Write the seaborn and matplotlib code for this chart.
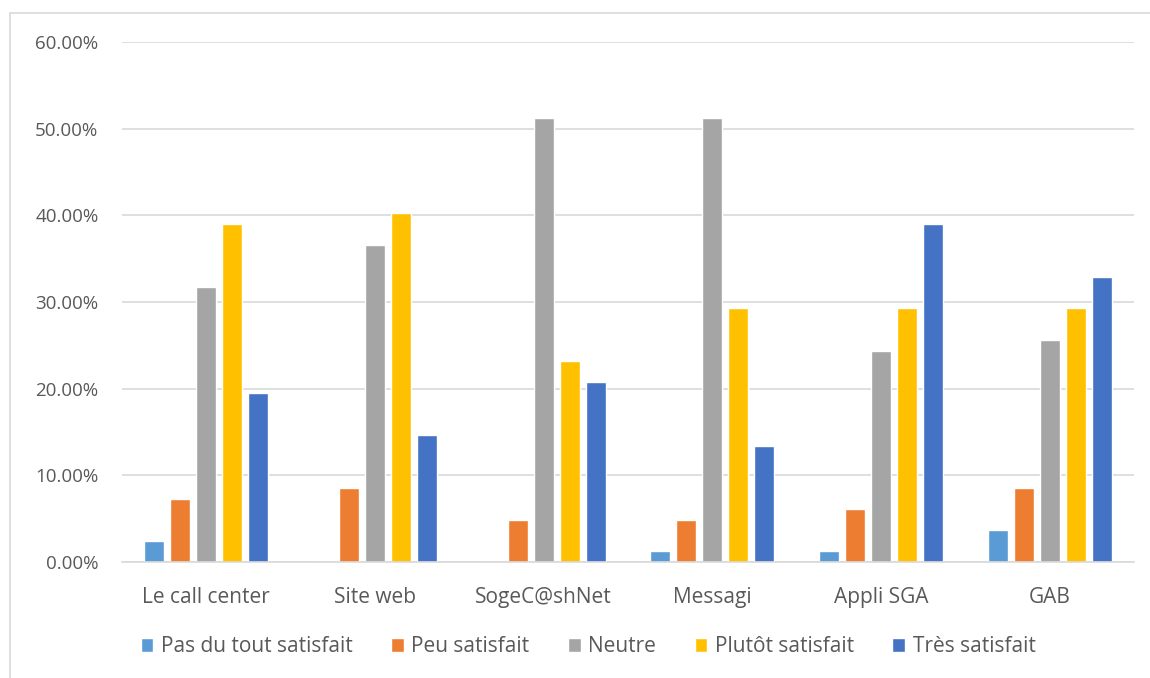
import matplotlib
matplotlib.use("Agg")
import matplotlib.pyplot as plt
import matplotlib.patches as mpatches
from matplotlib.ticker import FuncFormatter
import seaborn as sns
import pandas as pd

canaux = ["Le call center", "Site web", "SogeC@shNet", "Messagi", "Appli SGA", "GAB"]
niveaux = ["Pas du tout satisfait", "Peu satisfait", "Neutre", "Plutôt satisfait", "Très satisfait"]

pas_du_tout = [2.44, 0.00, 0.00, 1.22, 1.22, 3.66]
peu = [7.32, 8.54, 4.88, 4.88, 6.10, 8.54]
neutre = [31.71, 36.59, 51.22, 51.22, 24.39, 25.61]
plutot = [39.02, 40.24, 23.17, 29.27, 29.27, 29.27]
tres = [19.51, 14.63, 20.73, 13.41, 39.02, 32.93]

couleurs = ["#5B9BD5", "#ED7D31", "#A5A5A5", "#FFC000", "#4472C4"]

series = [pas_du_tout, peu, neutre, plutot, tres]
rows = []
for niveau, valeurs in zip(niveaux, series):
    for canal, v in zip(canaux, valeurs):
        rows.append({"Canal": canal, "Niveau": niveau, "Part": v})
df = pd.DataFrame(rows)

sns.set_theme(style="white")
plt.rcParams["font.family"] = ["Open Sans", "DejaVu Sans"]

fig = plt.figure(figsize=(11.5, 6.78), dpi=100)
ax = fig.add_axes([122 / 1150, 1 - 562 / 678, (1134 - 122) / 1150, (562 - 42) / 678])

sns.barplot(data=df, x="Canal", y="Part", hue="Niveau", hue_order=niveaux,
            order=canaux, palette=couleurs, width=0.77, gap=0.23,
            saturation=1, ax=ax, legend=True, errorbar=None)

ax.set_ylim(0, 60)
ax.set_yticks(range(0, 61, 10))
ax.yaxis.set_major_formatter(FuncFormatter(lambda v, _: f"{v:.2f}%"))
ax.set_xlim(-0.5, len(canaux) - 0.5)
ax.grid(axis="y", color="#D9D9D9", linewidth=1.2)
ax.set_axisbelow(True)
for s in ["top", "right", "left"]:
    ax.spines[s].set_visible(False)
ax.spines["bottom"].set_color("#D9D9D9")
ax.spines["bottom"].set_linewidth(1.2)
ax.set_xlabel("")
ax.set_ylabel("")
ax.tick_params(axis="both", length=0, colors="#595959")
ax.tick_params(axis="x", labelsize=15, pad=18)
ax.tick_params(axis="y", labelsize=13.5, pad=17)

handles, labels = ax.get_legend_handles_labels()
fig.legend(handles, labels, loc="center", bbox_to_anchor=(588 / 1150, 1 - 647 / 678),
           bbox_transform=fig.transFigure, ncol=5, frameon=False, fontsize=15,
           labelcolor="#595959", handlelength=0.62, handleheight=0.62,
           handletextpad=0.35, columnspacing=1.85)
ax.get_legend().remove()

# outer chart frame
fig.patches.append(mpatches.Rectangle((10 / 1150, -0.1), 1.2, 1 - 13 / 678 + 0.1,
                                      transform=fig.transFigure, fill=False,
                                      edgecolor="#D9D9D9", linewidth=1.2))

fig.savefig("out.png", dpi=100)
